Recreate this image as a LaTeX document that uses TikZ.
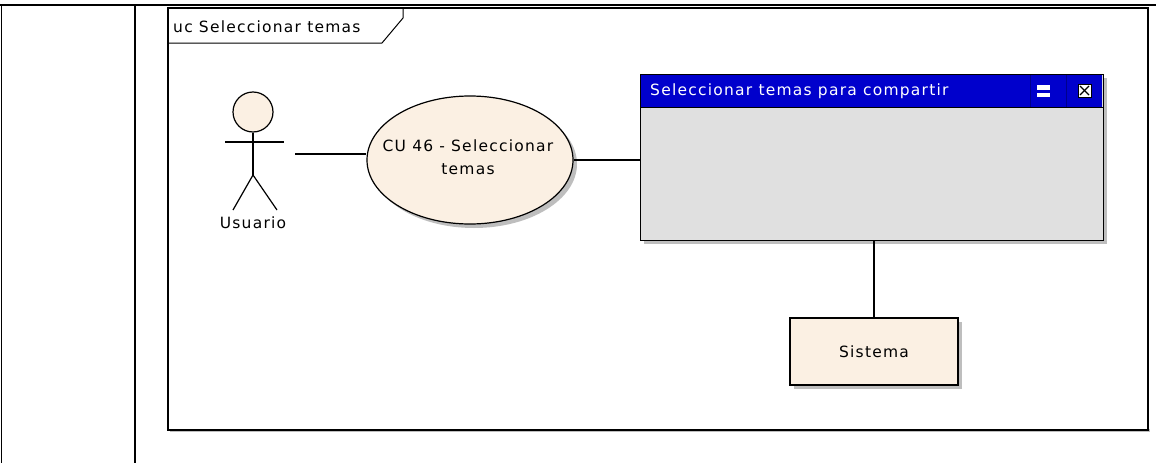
\documentclass[tikz,border=0pt]{standalone}
\usepackage{fontspec}
\setmainfont{DejaVu Sans}[LetterSpace=8]
\usetikzlibrary{shapes.geometric}
\definecolor{ucfill}{RGB}{251,240,227}
\definecolor{winblue}{RGB}{0,0,204}
\definecolor{winsep}{RGB}{0,0,140}
\definecolor{wingray}{RGB}{224,224,224}
\definecolor{shadowgray}{RGB}{190,190,190}
\tikzset{
  lbl/.style={font=\fontsize{15.5}{18}\selectfont, inner sep=0pt},
  edge/.style={draw=black, line width=1.3pt},
}
\begin{document}
\begin{tikzpicture}[x=1pt,y=-1pt]
\useasboundingbox (0,0) rectangle (1159,463);
% outer table lines
\draw[line width=2pt] (0,5) -- (1156,5);
\draw[line width=1.2pt] (1.5,5) -- (1.5,463);
\draw[line width=1.2pt] (135,5) -- (135,463);
% frame
\fill[shadowgray] (170,429) rectangle (1150,432);
\draw[line width=1.4pt, fill=white] (168,8) rectangle (1148,430);
\draw[line width=1pt] (168,43) -- (382,43) -- (403,18) -- (403,8);
\node[lbl, anchor=west] (framelbl) at (173,27) {uc Seleccionar temas};
% actor
\node[circle, draw, line width=1.2pt, fill=ucfill, minimum size=40pt, inner sep=0pt] (head) at (253,112) {};
\coordinate (hip) at (253,175);
\draw[line width=1.2pt] (head.south) -- (hip);
\draw[line width=1.2pt] (225,142) -- (284,142);
\draw[line width=1.2pt] (hip) -- (233,210);
\draw[line width=1.2pt] (hip) -- (277,210);
\node[lbl] (usuario) at (253,223) {Usuario};
\coordinate (actorR) at (295,154);
% use case
\fill[shadowgray] (474,164) ellipse (103pt and 64pt);
\node[ellipse, draw, line width=1.2pt, fill=ucfill, minimum width=206pt, minimum height=128pt, inner sep=0pt] (uc) at (470,160) {};
\node[lbl, align=center, font=\fontsize{15.5}{23}\selectfont] (uctext) at (468,157) {CU 46 - Seleccionar\\temas};
% window
\fill[shadowgray] (644,78) rectangle (1107,244);
\node[draw, line width=1.4pt, fill=wingray, minimum width=463pt, minimum height=166pt, inner sep=0pt, anchor=north west] (win) at (640,74) {};
\fill[winblue] (640.7,74.7) rectangle (1102.3,107);
\draw[line width=1pt] (640,107) -- (1103,107);
\draw[winsep, line width=1pt] (1030,75) -- (1030,107);
\draw[winsep, line width=1pt] (1066,75) -- (1066,107);
\node[lbl, text=white, anchor=west] (wintitle) at (650,91) {Seleccionar temas para compartir};
% minimize icon
\fill[white] (1037,85) rectangle (1050,89.5);
\fill[white] (1037,92.5) rectangle (1050,97);
% close icon
\draw[black, fill=white, line width=0.6pt] (1078,84) rectangle (1091,97);
\draw[black, line width=1.2pt] (1080,86) -- (1089,95);
\draw[black, line width=1.2pt] (1089,86) -- (1080,95);
% system box
\fill[shadowgray] (794,322) rectangle (962,389);
\node[draw, line width=1.3pt, fill=ucfill, minimum width=168pt, minimum height=67pt, inner sep=0pt, lbl] (sys) at (874,351.5) {Sistema};
% connectors
\draw[edge] (actorR) -- (uc.west |- actorR);
\draw[edge] (uc.east) -- (win.west |- uc.east);
\draw[edge] (win.south -| sys.north) -- (sys.north);
\end{tikzpicture}
\end{document}
